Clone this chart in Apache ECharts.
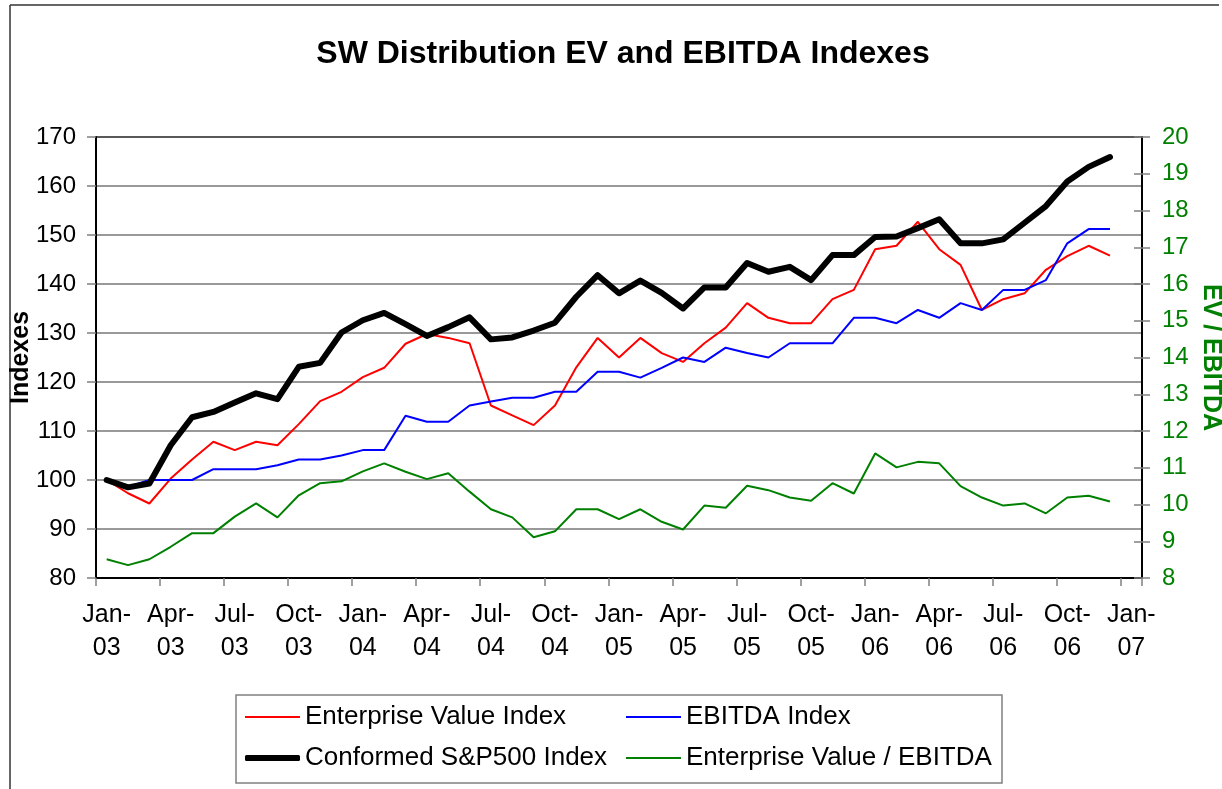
<!DOCTYPE html>
<html>
<head>
<meta charset="utf-8">
<script src="https://cdn.jsdelivr.net/npm/echarts@6/dist/echarts.min.js"></script>
<style>html,body{margin:0;padding:0;background:#fff;}#chart{width:1222px;height:789px;}</style>
</head>
<body>
<div id="chart"></div>
<script>
var categories = ['Jan-03','Feb-03','Mar-03','Apr-03','May-03','Jun-03','Jul-03','Aug-03','Sep-03','Oct-03','Nov-03','Dec-03',
  'Jan-04','Feb-04','Mar-04','Apr-04','May-04','Jun-04','Jul-04','Aug-04','Sep-04','Oct-04','Nov-04','Dec-04',
  'Jan-05','Feb-05','Mar-05','Apr-05','May-05','Jun-05','Jul-05','Aug-05','Sep-05','Oct-05','Nov-05','Dec-05',
  'Jan-06','Feb-06','Mar-06','Apr-06','May-06','Jun-06','Jul-06','Aug-06','Sep-06','Oct-06','Nov-06','Dec-06',
  'Jan-07'];
var evIndex = [100,97.3,95.2,100.3,104.2,107.8,106.1,107.8,107.1,111.4,116.1,118.0,121.0,122.9,127.8,129.8,129.0,127.9,115.2,113.2,
  111.2,115.2,123.0,129.0,125.0,129.0,125.9,124.1,127.9,131.1,136.1,133.1,132.0,132.0,136.9,138.8,147.1,147.8,152.7,147.1,
  143.9,134.7,136.9,138.1,142.9,145.7,147.8,145.8];
var ebitdaIndex = [100,98.6,100,100,100,102.2,102.2,102.2,103.0,104.2,104.2,105.0,106.1,106.1,113.1,111.9,111.9,115.2,116.0,116.8,
  116.8,118.0,118.0,122.1,122.1,120.9,122.9,125.0,124.1,127.0,125.9,125.0,127.9,127.9,127.9,133.1,133.1,132.0,134.7,133.1,
  136.1,134.7,138.8,138.8,140.8,148.3,151.2,151.2];
var spIndex = [100.0,98.5,99.3,107.1,112.8,113.9,115.8,117.7,116.5,123.1,123.9,130.1,132.6,134.1,131.8,129.4,131.2,133.2,128.7,129.1,
  130.5,132.1,137.4,141.8,138.1,140.7,138.2,135.0,139.3,139.3,144.3,142.5,143.5,140.8,145.9,145.9,149.6,149.7,151.4,153.2,
  148.3,148.3,149.1,152.5,155.9,160.9,163.9,165.9];
var evEbitda = [8.51,8.35,8.51,8.85,9.22,9.22,9.67,10.03,9.65,10.25,10.58,10.63,10.9,11.12,10.89,10.69,10.85,10.35,9.87,9.65,
  9.11,9.27,9.87,9.87,9.60,9.87,9.53,9.32,9.97,9.91,10.51,10.39,10.19,10.10,10.58,10.30,11.39,11.01,11.16,11.12,
  10.50,10.19,9.97,10.03,9.76,10.19,10.24,10.08];
var seriesNames = ['Enterprise Value Index','EBITDA Index','Conformed S&P500 Index','Enterprise Value / EBITDA'];

var FONT = "'Liberation Sans', Arial, sans-serif";
var GREEN = '#008000';
var chart = echarts.init(document.getElementById('chart'));

function legendAt(name, left, top, h, icon) {
  return {
    data: [name], left: left, top: top, orient: 'horizontal',
    icon: icon, itemWidth: 55, itemHeight: h, itemGap: 5, padding: 0,
    textStyle: { fontFamily: FONT, fontSize: 26, color: '#000', lineHeight: 30 },
    selectedMode: false
  };
}

chart.setOption({
  animation: false,
  backgroundColor: '#fff',
  title: {
    text: 'SW Distribution EV and EBITDA Indexes',
    left: 618, top: 33, textAlign: 'center',
    textStyle: { fontFamily: FONT, fontSize: 32, fontWeight: 'bold', color: '#000' }
  },
  legend: [
    legendAt(seriesNames[0], 245, 702, 2, 'rect'),
    legendAt(seriesNames[1], 626, 702, 2, 'rect'),
    legendAt(seriesNames[2], 245, 743, 6, 'roundRect'),
    legendAt(seriesNames[3], 626, 743, 2, 'rect')
  ],
  graphic: [
    { type: 'line', shape: { x1: 10, y1: 5, x2: 10, y2: 789 }, style: { stroke: '#333', lineWidth: 1.5 } },
    { type: 'line', shape: { x1: 10, y1: 5, x2: 1219, y2: 5 }, style: { stroke: '#333', lineWidth: 1.5 } },
    { type: 'rect', shape: { x: 236, y: 695, width: 766, height: 88 }, style: { stroke: '#808080', lineWidth: 1.5, fill: 'none' }, z: -1 }
  ],
  grid: { left: 96, right: 80, top: 137, bottom: 211, show: true, borderColor: '#000', borderWidth: 2,
    backgroundColor: 'transparent', containLabel: false, outerBoundsMode: 'none' },
  xAxis: {
    type: 'category', data: categories, boundaryGap: true,
    axisLine: { lineStyle: { color: '#000', width: 2 } },
    axisTick: { show: true, interval: 2, length: 8, lineStyle: { color: '#808080', width: 1.5 } },
    axisLabel: {
      interval: 2, margin: 21, fontFamily: FONT, fontSize: 25, lineHeight: 33, color: '#000',
      formatter: function (v) { return v.replace('-', '-\n'); }
    },
    splitLine: { show: false }
  },
  yAxis: [
    {
      type: 'value', min: 80, max: 170, interval: 10, position: 'left',
      name: 'Indexes', nameLocation: 'middle', nameRotate: 90, nameGap: 62, nameMoveOverlap: false,
      nameTextStyle: { fontFamily: FONT, fontSize: 25, fontWeight: 'bold', color: '#000' },
      axisLine: { show: true, lineStyle: { color: '#000', width: 2 } },
      axisTick: { show: true, length: 9, lineStyle: { color: '#808080', width: 1.5 } },
      axisLabel: { fontFamily: FONT, fontSize: 24, color: '#000', margin: 20 },
      splitLine: { show: true, lineStyle: { color: '#777', width: 1.5 } }
    },
    {
      type: 'value', min: 8, max: 20, interval: 1, position: 'right',
      name: 'EV / EBITDA', nameLocation: 'middle', nameRotate: -90, nameGap: 56, nameMoveOverlap: false,
      nameTextStyle: { fontFamily: FONT, fontSize: 25, fontWeight: 'bold', color: GREEN },
      axisLine: { show: true, lineStyle: { color: '#000', width: 2 } },
      axisTick: { show: true, length: 8, lineStyle: { color: '#808080', width: 1.5 } },
      axisLabel: { fontFamily: FONT, fontSize: 24, color: GREEN, margin: 20 },
      splitLine: { show: false }
    },
    {
      type: 'value', min: 8, max: 20, interval: 1, position: 'right',
      axisLine: { show: false },
      axisTick: { show: true, inside: true, length: 8, lineStyle: { color: '#808080', width: 1.5 } },
      axisLabel: { show: false },
      splitLine: { show: false }
    }
  ],
  series: [
    { name: seriesNames[0], type: 'line', data: evIndex, yAxisIndex: 0, symbol: 'none', z: 3,
      lineStyle: { color: '#ff0000', width: 2 }, itemStyle: { color: '#ff0000' } },
    { name: seriesNames[1], type: 'line', data: ebitdaIndex, yAxisIndex: 0, symbol: 'none', z: 3,
      lineStyle: { color: '#0000ff', width: 2 }, itemStyle: { color: '#0000ff' } },
    { name: seriesNames[2], type: 'line', data: spIndex, yAxisIndex: 0, symbol: 'none', z: 4,
      lineStyle: { color: '#000', width: 6, cap: 'round', join: 'round' }, itemStyle: { color: '#000' } },
    { name: seriesNames[3], type: 'line', data: evEbitda, yAxisIndex: 1, symbol: 'none', z: 5,
      lineStyle: { color: GREEN, width: 2 }, itemStyle: { color: GREEN } }
  ]
});
</script>
</body>
</html>
